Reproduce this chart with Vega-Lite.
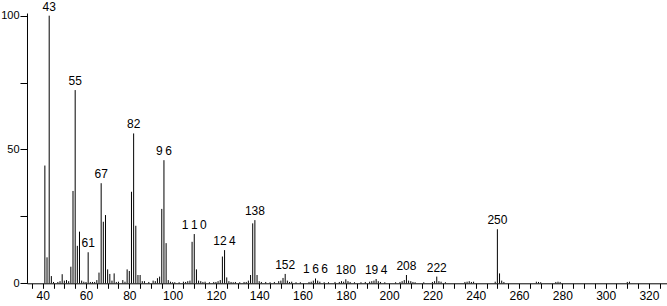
{
  "$schema": "https://vega.github.io/schema/vega-lite/v6.json",
  "autosize": "none",
  "width": 643.6,
  "height": 270.3,
  "padding": {"left": 27, "top": 13, "right": 0, "bottom": 22.7},
  "background": "white",
  "config": {
    "view": {"stroke": null},
    "font": "Liberation Sans"
  },
  "data": {
    "values": [
      {"mz": 41, "i": 44}, {"mz": 42, "i": 9.7}, {"mz": 43, "i": 100, "label": "43"}, {"mz": 44, "i": 2.7},
      {"mz": 45, "i": 0.5}, {"mz": 47, "i": 0.5}, {"mz": 48, "i": 0.8}, {"mz": 49, "i": 3.4}, {"mz": 50, "i": 1},
      {"mz": 51, "i": 1.2}, {"mz": 52, "i": 0.8}, {"mz": 53, "i": 6.2}, {"mz": 54, "i": 34.5},
      {"mz": 55, "i": 72.2, "label": "55"}, {"mz": 56, "i": 14}, {"mz": 57, "i": 19.3}, {"mz": 58, "i": 1},
      {"mz": 59, "i": 0.6}, {"mz": 60, "i": 0.5}, {"mz": 61, "i": 11.6, "label": "61"}, {"mz": 62, "i": 0.5},
      {"mz": 63, "i": 0.5}, {"mz": 64, "i": 0.5}, {"mz": 65, "i": 1.2}, {"mz": 66, "i": 4},
      {"mz": 67, "i": 37.4, "label": "67"}, {"mz": 68, "i": 23}, {"mz": 69, "i": 25.5}, {"mz": 70, "i": 5.2},
      {"mz": 71, "i": 3.5}, {"mz": 72, "i": 1}, {"mz": 73, "i": 3.7}, {"mz": 74, "i": 0.5}, {"mz": 75, "i": 0.6},
      {"mz": 77, "i": 1.2}, {"mz": 78, "i": 0.6}, {"mz": 79, "i": 5.2}, {"mz": 80, "i": 4.6}, {"mz": 81, "i": 34.2},
      {"mz": 82, "i": 56, "label": "82"}, {"mz": 83, "i": 21.5}, {"mz": 84, "i": 3.1}, {"mz": 85, "i": 3.1},
      {"mz": 86, "i": 0.8}, {"mz": 87, "i": 0.8}, {"mz": 89, "i": 0.5}, {"mz": 91, "i": 1}, {"mz": 92, "i": 0.8},
      {"mz": 93, "i": 1.9}, {"mz": 94, "i": 2.5}, {"mz": 95, "i": 27.8}, {"mz": 96, "i": 46, "label": "9\u20096"},
      {"mz": 97, "i": 15}, {"mz": 98, "i": 1.2}, {"mz": 99, "i": 0.6}, {"mz": 100, "i": 0.4}, {"mz": 101, "i": 0.4},
      {"mz": 103, "i": 0.4}, {"mz": 105, "i": 0.6}, {"mz": 106, "i": 0.5}, {"mz": 107, "i": 0.8}, {"mz": 108, "i": 1},
      {"mz": 109, "i": 15.5}, {"mz": 110, "i": 18.4, "label": "1\u20091\u20090"}, {"mz": 111, "i": 5.2}, {"mz": 112, "i": 1},
      {"mz": 113, "i": 0.8}, {"mz": 114, "i": 0.5}, {"mz": 115, "i": 0.6}, {"mz": 117, "i": 0.4}, {"mz": 119, "i": 0.5},
      {"mz": 120, "i": 0.5}, {"mz": 121, "i": 0.8}, {"mz": 122, "i": 1.2}, {"mz": 123, "i": 10},
      {"mz": 124, "i": 12.4, "label": "12\u20094"}, {"mz": 125, "i": 2.2}, {"mz": 126, "i": 0.8}, {"mz": 127, "i": 0.5},
      {"mz": 128, "i": 0.4}, {"mz": 129, "i": 0.5}, {"mz": 131, "i": 0.4}, {"mz": 133, "i": 0.5}, {"mz": 134, "i": 0.5},
      {"mz": 135, "i": 1}, {"mz": 136, "i": 3.1}, {"mz": 137, "i": 22.4}, {"mz": 138, "i": 23.6, "label": "138"},
      {"mz": 139, "i": 3.1}, {"mz": 140, "i": 0.8}, {"mz": 141, "i": 0.5}, {"mz": 143, "i": 0.5}, {"mz": 145, "i": 0.4},
      {"mz": 147, "i": 0.5}, {"mz": 149, "i": 0.8}, {"mz": 150, "i": 1}, {"mz": 151, "i": 2},
      {"mz": 152, "i": 3.5, "label": "152"}, {"mz": 153, "i": 1}, {"mz": 154, "i": 0.5}, {"mz": 155, "i": 0.6},
      {"mz": 157, "i": 0.4}, {"mz": 159, "i": 0.4}, {"mz": 163, "i": 0.5}, {"mz": 164, "i": 0.6}, {"mz": 165, "i": 1},
      {"mz": 166, "i": 1.8, "label": "1\u20096\u20096"}, {"mz": 167, "i": 1}, {"mz": 168, "i": 0.6}, {"mz": 170, "i": 0.4},
      {"mz": 172, "i": 0.4}, {"mz": 175, "i": 0.5}, {"mz": 177, "i": 0.5}, {"mz": 178, "i": 0.8}, {"mz": 179, "i": 0.6},
      {"mz": 180, "i": 1.5, "label": "180"}, {"mz": 181, "i": 0.8}, {"mz": 182, "i": 0.5}, {"mz": 184, "i": 0.4},
      {"mz": 187, "i": 0.4}, {"mz": 189, "i": 0.5}, {"mz": 191, "i": 0.6}, {"mz": 192, "i": 0.8}, {"mz": 193, "i": 1},
      {"mz": 194, "i": 1.6, "label": "19\u20094"}, {"mz": 195, "i": 0.8}, {"mz": 196, "i": 0.5}, {"mz": 198, "i": 0.4},
      {"mz": 203, "i": 0.4}, {"mz": 205, "i": 0.5}, {"mz": 206, "i": 0.8}, {"mz": 207, "i": 1.2},
      {"mz": 208, "i": 3.1, "label": "208"}, {"mz": 209, "i": 1}, {"mz": 210, "i": 0.8}, {"mz": 211, "i": 0.5},
      {"mz": 212, "i": 0.4}, {"mz": 216, "i": 0.4}, {"mz": 220, "i": 0.5}, {"mz": 221, "i": 0.8},
      {"mz": 222, "i": 2.5, "label": "222"}, {"mz": 223, "i": 0.8}, {"mz": 224, "i": 0.6}, {"mz": 226, "i": 0.4},
      {"mz": 235, "i": 0.5}, {"mz": 236, "i": 0.6}, {"mz": 237, "i": 0.8}, {"mz": 238, "i": 0.5}, {"mz": 239, "i": 0.6},
      {"mz": 249, "i": 0.6}, {"mz": 250, "i": 20.2, "label": "250"}, {"mz": 251, "i": 3.7}, {"mz": 252, "i": 1},
      {"mz": 253, "i": 0.5}, {"mz": 268, "i": 0.6}, {"mz": 269, "i": 0.5}, {"mz": 270, "i": 0.4}, {"mz": 277, "i": 0.5},
      {"mz": 278, "i": 0.6}, {"mz": 279, "i": 0.5}, {"mz": 310, "i": 0.5}, {"mz": 311, "i": 0.6}
    ]
  },
  "encoding": {
    "x": {
      "field": "mz", "type": "quantitative",
      "scale": {"domain": [32.75, 330], "nice": false, "zero": false},
      "axis": {
        "title": null, "grid": false,
        "values": [35,40,45,50,55,60,65,70,75,80,85,90,95,100,105,110,115,120,125,130,135,140,145,150,155,160,165,170,175,180,185,190,195,200,205,210,215,220,225,230,235,240,245,250,255,260,265,270,275,280,285,290,295,300,305,310,315,320,325],
        "labelExpr": "datum.value % 20 == 0 ? datum.label : ''",
        "domainColor": "#000", "tickColor": "#000", "tickSize": 5,
        "labelFontSize": 12, "labelColor": "#000", "labelPadding": 2, "labelFlush": false
      }
    },
    "y": {
      "field": "i", "type": "quantitative",
      "scale": {"domain": [0, 101], "nice": false},
      "axis": {
        "title": null, "grid": false,
        "values": [0, 25, 50, 75, 100],
        "labelExpr": "datum.value % 50 == 0 ? datum.label : ''",
        "domainColor": "#000", "tickColor": "#000", "tickSize": 7,
        "labelFontSize": 11, "labelColor": "#000", "labelPadding": 1
      }
    }
  },
  "layer": [
    {
      "mark": {"type": "rule", "color": "#000", "strokeWidth": 1},
      "encoding": {"y2": {"datum": 0}}
    },
    {
      "transform": [{"filter": "datum.label != null"}],
      "mark": {"type": "text", "baseline": "bottom", "dy": -2, "fontSize": 12, "color": "#000"},
      "encoding": {"text": {"field": "label"}}
    }
  ]
}
